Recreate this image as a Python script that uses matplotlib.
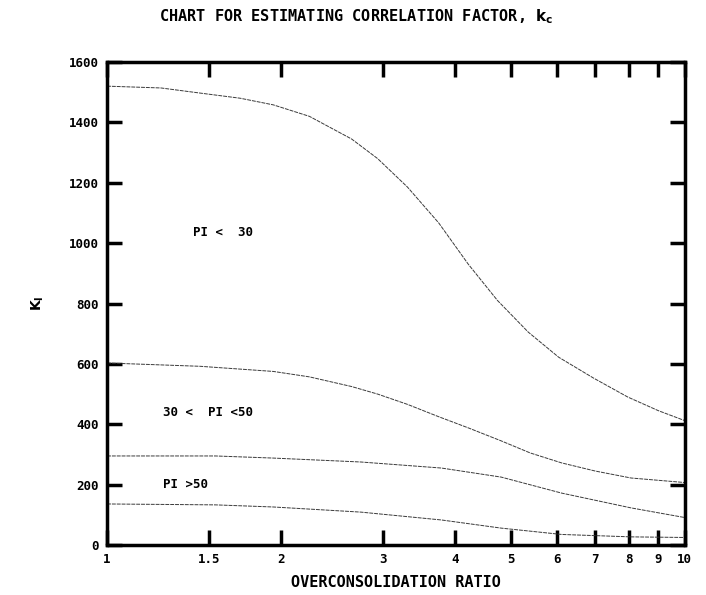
import numpy as np
import matplotlib
matplotlib.use("Agg")
import matplotlib.pyplot as plt
from matplotlib.ticker import FixedLocator, FixedFormatter, NullLocator

# Overconsolidation ratio vs K for three plasticity ranges
ocr_low_pi = [1.0, 1.24, 1.45, 1.7, 1.94, 2.24, 2.65, 2.94, 3.31, 3.75, 4.22, 4.74, 5.36, 6.05, 6.95, 7.97, 9.0, 10.0]
k_low_pi = [1520, 1514, 1497, 1480, 1458, 1420, 1345, 1280, 1186, 1067, 930, 810, 705, 622, 553, 490, 445, 412]

ocr_mid_pi = [1.0, 1.45, 1.94, 2.24, 2.65, 2.94, 3.31, 3.75, 4.22, 4.81, 5.4, 6.12, 7.0, 8.07, 10.0]
k_mid_pi = [603, 592, 575, 557, 525, 500, 466, 425, 388, 345, 305, 272, 245, 222, 207]

ocr_high_pi = [1.0, 1.54, 1.94, 2.75, 3.79, 4.81, 6.12, 8.07, 10.0]
k_high_pi = [295, 295, 288, 275, 255, 225, 172, 123, 91]

ocr_base = [1.0, 1.54, 1.94, 2.75, 3.79, 4.81, 6.12, 8.07, 10.0]
k_base = [136, 133, 126, 109, 83, 56, 35, 27, 25]

x_ticks = [1, 1.5, 2, 3, 4, 5, 6, 7, 8, 9, 10]
x_labels = ["1", "1.5", "2", "3", "4", "5", "6", "7", "8", "9", "10"]
y_ticks = [0, 200, 400, 600, 800, 1000, 1200, 1400, 1600]

plt.rcParams["font.family"] = ["DejaVu Sans Mono"]
plt.rcParams["font.weight"] = "bold"
plt.rcParams["mathtext.fontset"] = "dejavusans"

fig = plt.figure(figsize=(7.06, 5.95), dpi=100)
ax = fig.add_axes([0.1516, 0.084, 0.8184, 0.8118])

line_kw = dict(color="#3a3a3a", linewidth=0.7, linestyle=(0, (4, 1)))
ax.plot(ocr_low_pi, k_low_pi, **line_kw)
ax.plot(ocr_mid_pi, k_mid_pi, **line_kw)
ax.plot(ocr_high_pi, k_high_pi, **line_kw)
ax.plot(ocr_base, k_base, **line_kw)

ax.set_xscale("log")
ax.set_xlim(1, 10)
ax.set_ylim(0, 1600)

ax.xaxis.set_major_locator(FixedLocator(x_ticks))
ax.xaxis.set_major_formatter(FixedFormatter(x_labels))
ax.xaxis.set_minor_locator(NullLocator())
ax.set_yticks(y_ticks)

ax.tick_params(axis="x", direction="in", length=11, width=2.5, top=True,
               labelsize=9, pad=6)
ax.tick_params(axis="y", direction="in", length=11, width=2.5, right=True,
               labelsize=9, pad=6)
for s in ax.spines.values():
    s.set_linewidth(2.5)

# Range labels inside the plot
ax.text(1.41, 1035, "PI <  30", fontsize=9, fontweight="bold", va="center")
ax.text(1.25, 440, "30 <  PI <50", fontsize=9, fontweight="bold", va="center")
ax.text(1.25, 199, "PI >50", fontsize=9, fontweight="bold", va="center")

fig.text(0.505, 0.972, r"CHART FOR ESTIMATING CORRELATION FACTOR, $\mathbf{k_c}$",
         ha="center", va="center", fontsize=11, fontweight="bold")
ax.set_xlabel("OVERCONSOLIDATION RATIO", fontsize=11, fontweight="bold", labelpad=6)
ax.set_ylabel(r"$\mathbf{K_I}$", fontsize=10, labelpad=16)

fig.savefig("out.png", dpi=100)
